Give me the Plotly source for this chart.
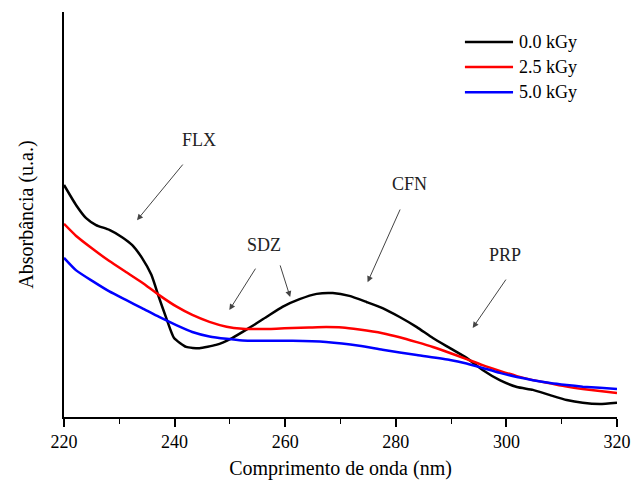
import plotly.graph_objects as go

wl_0kGy = [220.0, 222.2, 224.0, 225.8, 228.2, 230.5, 232.3, 234.1, 235.8, 237.2, 238.5, 239.9,
           242.1, 244.5, 247.5, 250.4, 253.5, 256.6, 259.5, 262.6, 265.7, 268.6, 271.6, 274.7,
           277.6, 280.7, 283.8, 286.7, 289.8, 292.8, 295.7, 298.8, 301.9, 304.8, 307.9, 310.9,
           313.8, 316.9, 320.0]
abs_0kGy = [0.573, 0.523, 0.491, 0.474, 0.462, 0.444, 0.425, 0.393, 0.351, 0.294, 0.244, 0.195,
            0.173, 0.170, 0.178, 0.195, 0.220, 0.247, 0.272, 0.291, 0.304, 0.306, 0.299, 0.284,
            0.269, 0.247, 0.222, 0.195, 0.170, 0.146, 0.116, 0.091, 0.074, 0.067, 0.054, 0.042,
            0.035, 0.032, 0.035]

wl_2_5kGy = [220.0, 222.2, 225.1, 228.2, 231.2, 234.1, 237.2, 240.3, 243.2, 246.3, 249.4, 252.3,
             255.3, 258.4, 261.3, 264.3, 267.4, 270.3, 273.4, 277.6, 280.7, 283.8, 286.7, 289.8,
             292.8, 295.7, 298.8, 301.9, 304.8, 307.9, 310.9, 313.8, 316.9, 320.0]
abs_2_5kGy = [0.477, 0.447, 0.416, 0.385, 0.358, 0.332, 0.301, 0.273, 0.252, 0.235, 0.223, 0.218,
              0.217, 0.218, 0.220, 0.221, 0.222, 0.221, 0.216, 0.207, 0.197, 0.185, 0.173, 0.158,
              0.143, 0.128, 0.114, 0.101, 0.091, 0.083, 0.075, 0.069, 0.064, 0.059]

wl_5_0kGy = [220.0, 222.2, 225.1, 228.2, 231.2, 234.1, 237.2, 240.3, 243.2, 246.3, 249.4, 252.3,
             255.3, 261.3, 267.4, 273.4, 277.6, 283.8, 289.8, 292.8, 295.7, 298.8, 301.9, 304.8,
             307.9, 310.9, 313.8, 316.9, 320.0]
abs_5_0kGy = [0.393, 0.362, 0.336, 0.310, 0.289, 0.269, 0.247, 0.227, 0.210, 0.199, 0.193, 0.189,
              0.188, 0.188, 0.185, 0.176, 0.166, 0.153, 0.141, 0.132, 0.121, 0.109, 0.099, 0.091,
              0.084, 0.079, 0.075, 0.072, 0.069]

series_names = ["0.0 kGy", "2.5 kGy", "5.0 kGy"]
series_colors = ["#000000", "#ff0000", "#0000ff"]

labels = ["FLX", "SDZ", "CFN", "PRP"]
label_pos = [(244.5, 0.684), (256.2, 0.425), (282.5, 0.575), (299.7, 0.400)]
# arrows: (tail_x, tail_y, head_x, head_y)
arrows = [(241.7, 0.627, 233.2, 0.486),
          (254.8, 0.370, 249.9, 0.264),
          (259.0, 0.378, 260.9, 0.296),
          (280.9, 0.516, 274.9, 0.333),
          (300.1, 0.343, 293.9, 0.220)]

FONT = "Liberation Serif"

fig = go.Figure()
xs = [wl_0kGy, wl_2_5kGy, wl_5_0kGy]
ys = [abs_0kGy, abs_2_5kGy, abs_5_0kGy]
for name, color, x, y in zip(series_names, series_colors, xs, ys):
    fig.add_trace(go.Scatter(x=x, y=y, mode="lines", name=name, showlegend=False,
                             line=dict(color=color, width=2.5, shape="spline", smoothing=0.5)))

# legend drawn in paper coordinates (long line samples as in the reference)
leg_y = [0.926, 0.864, 0.802]
for name, color, ly in zip(series_names, series_colors, leg_y):
    fig.add_shape(type="line", xref="paper", yref="paper", x0=0.725, x1=0.812, y0=ly, y1=ly,
                  line=dict(color=color, width=2.5))
    fig.add_annotation(xref="paper", yref="paper", x=0.819, y=ly, xanchor="left", yanchor="middle",
                       text=name, showarrow=False, font=dict(family=FONT, size=18, color="black"))

for t, (x, y) in zip(labels, label_pos):
    fig.add_annotation(x=x, y=y, xref="x", yref="y", text=t, showarrow=False,
                       font=dict(family=FONT, size=18, color="#222"))
for tx, ty, hx, hy in arrows:
    fig.add_annotation(x=hx, y=hy, ax=tx, ay=ty, xref="x", yref="y", axref="x", ayref="y",
                       text="", showarrow=True, arrowhead=2, arrowsize=1.2, arrowwidth=1,
                       arrowcolor="#444")

fig.update_layout(
    width=632, height=487,
    margin=dict(l=64, r=15, t=12, b=70),
    plot_bgcolor="white", paper_bgcolor="white",
    font=dict(family=FONT, size=16, color="black"),
    showlegend=False,
    xaxis=dict(range=[220, 320], dtick=20, tick0=220, showline=True, linecolor="black",
               linewidth=1.5, ticks="outside", ticklen=8, tickwidth=1.5, tickcolor="black",
               minor=dict(dtick=10, ticks="outside", ticklen=5, tickwidth=1.2, tickcolor="black"),
               showgrid=False, zeroline=False, automargin=False,
               tickfont=dict(family=FONT, size=18, color="black"),
               title=dict(text="Comprimento de onda (nm)", font=dict(family=FONT, size=20, color="black"),
                          standoff=10)),
    yaxis=dict(range=[0, 1], showline=True, linecolor="black", linewidth=1.5,
               showticklabels=False, ticks="", showgrid=False, zeroline=False, automargin=False,
               title=dict(text="Absorbância (u.a.)", font=dict(family=FONT, size=20, color="black"),
                          standoff=23)),
)

fig.write_html("out.html")
